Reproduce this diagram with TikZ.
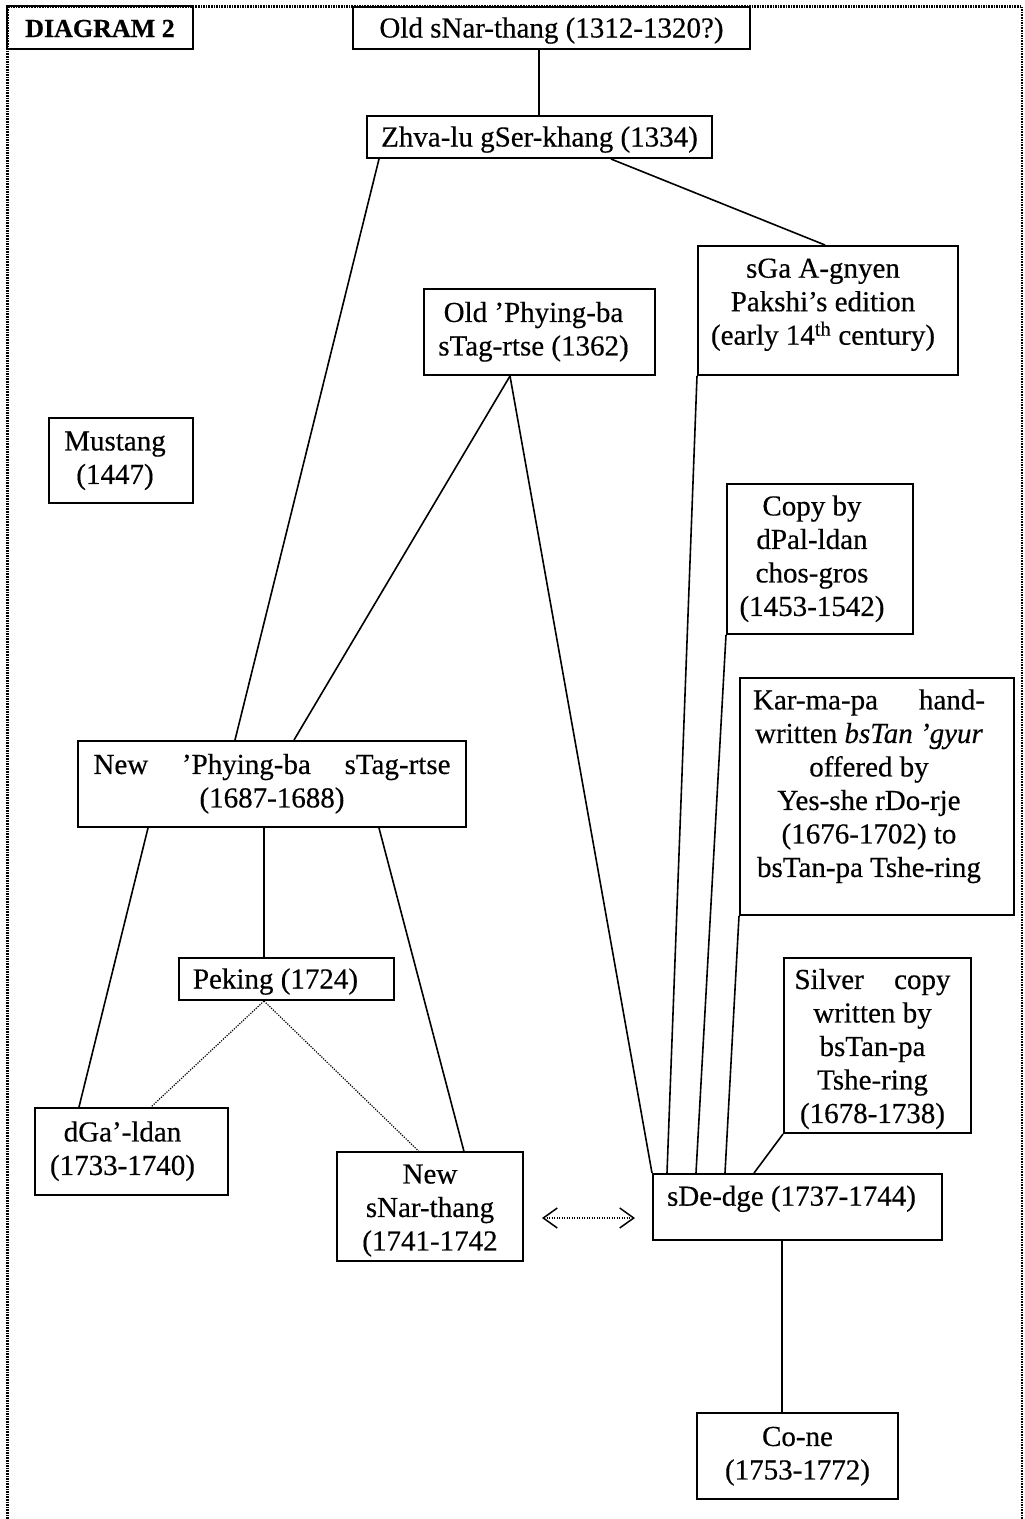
\documentclass[tikz,border=0pt]{standalone}
\usepackage{fontspec}
\setmainfont{Liberation Serif}[FakeBold=0.4]
\usetikzlibrary{arrows.meta}
\newcommand{\tb}[1]{\begin{tabular}{@{}c@{}}#1\end{tabular}}
\newcommand{\topgap}{\rule{0pt}{31pt}}
\tikzset{mybarb/.tip={Straight Barb[length=14pt,width=20pt,line width=1.5pt]}}
\begin{document}
\begin{tikzpicture}[x=1pt,y=-1pt,
 box/.style={draw, line width=2pt, inner sep=0pt, font=\fontsize{29}{33.5}\selectfont},
 oneline/.style={text height=22pt, text depth=3pt},
 link/.style={line width=1.6pt},
 dotlink/.style={line width=1.2pt, dash pattern=on 1.2pt off 1.3pt}
]
\clip (0,0) rectangle (1025,1519);
\fill[white] (0,0) rectangle (1025,1519);
\draw[line width=2.2pt, dash pattern=on 1.6pt off 1pt] (7.5,6.5) rectangle (1022,1545);

\node[box, oneline, minimum width=186pt, minimum height=43pt, font=\fontsize{26}{30}\selectfont\bfseries] (diag) at (100,27.5) {DIAGRAM 2};
\node[box, oneline, minimum width=397pt, minimum height=42pt] (oldsnar) at (551.5,28) {Old sNar-thang (1312-1320?)};
\node[box, oneline, minimum width=345pt, minimum height=42pt] (zhva) at (539.5,137) {Zhva-lu gSer-khang (1334)};
\node[box, minimum width=260pt, minimum height=129pt] (sga) at (828,310.5) {\tb{sGa A-gnyen\\ Pakshi’s edition\\ (early 14\textsuperscript{th} century)\\[12pt]}\hspace*{10pt}};
\node[box, minimum width=231pt, minimum height=86pt] (oldphy) at (539.5,332) {\tb{Old ’Phying-ba\\ sTag-rtse (1362)}\hspace*{12pt}};
\node[box, minimum width=144pt, minimum height=85pt] (mustang) at (121,460.5) {\tb{Mustang\\ (1447)}\hspace*{12pt}};
\node[box, minimum width=186pt, minimum height=150pt] (copyby) at (820,559) {\tb{Copy by\\ dPal-ldan\\ chos-gros\\ (1453-1542)}\hspace*{16pt}};
\node[box, minimum width=274pt, minimum height=237pt] (karma) at (877,796.5) {\tb{\hbox to 232pt{Kar-ma-pa\hfill hand-}\\ written \textit{bsTan ’gyur}\\ offered by\\ Yes-she rDo-rje\\ (1676-1702) to\\ bsTan-pa Tshe-ring\\[20pt]}\hspace*{16pt}};
\node[box, minimum width=388pt, minimum height=86pt] (newphy) at (272,784) {\tb{\hbox to 357pt{New\hfill ’Phying-ba\hfill sTag-rtse}\\ (1687-1688)}};
\node[box, oneline, minimum width=215pt, minimum height=42pt] (peking) at (286.5,979) {Peking (1724)\hspace*{22pt}};
\node[box, minimum width=187pt, minimum height=173pt] (silver) at (877.5,1045.5) {\tb{\topgap\hbox to 156pt{Silver\hfill copy}\\ written by\\ bsTan-pa\\ Tshe-ring\\ (1678-1738)}\hspace*{10pt}};
\node[box, minimum width=193pt, minimum height=87pt] (dgaldan) at (131.5,1151.5) {\tb{dGa’-ldan\\ (1733-1740)}\hspace*{18pt}};
\node[box, minimum width=186pt, minimum height=107pt] (newsnar) at (430,1206.5) {\tb{\topgap New\\ sNar-thang\\ (1741-1742}};
\node[box, minimum width=289pt, minimum height=66pt] (sdedge) at (797.5,1207) {\tb{sDe-dge (1737-1744)\\[16pt]}\hspace*{12pt}};
\node[box, minimum width=201pt, minimum height=86pt] (cone) at (797.5,1456) {\tb{Co-ne\\ (1753-1772)}};

\draw[link] ([xshift=187pt]oldsnar.south west) -- ([xshift=173pt]zhva.north west);
\draw[link] ([xshift=13pt]zhva.south west) -- ([xshift=158pt]newphy.north west);
\draw[link] ([xshift=245pt]zhva.south west) -- ([xshift=128pt]sga.north west);
\draw[link] ([xshift=87pt]oldphy.south west) -- ([xshift=217pt]newphy.north west);
\draw[link] ([xshift=87pt]oldphy.south west) -- (sdedge.north west);
\draw[link] (sga.south west) -- ([xshift=15pt]sdedge.north west);
\draw[link] (copyby.south west) -- ([xshift=44pt]sdedge.north west);
\draw[link] (karma.south west) -- ([xshift=73pt]sdedge.north west);
\draw[link] (silver.south west) -- ([xshift=102pt]sdedge.north west);
\draw[link] ([xshift=71pt]newphy.south west) -- ([xshift=45pt]dgaldan.north west);
\draw[link] ([xshift=187pt]newphy.south west) -- ([xshift=86pt]peking.north west);
\draw[link] ([xshift=302pt]newphy.south west) -- ([xshift=128pt]newsnar.north west);
\draw[dotlink] ([xshift=86pt]peking.south west) -- ([xshift=117pt]dgaldan.north west);
\draw[dotlink] ([xshift=86pt]peking.south west) -- ([xshift=83pt]newsnar.north west);
\draw[dotlink, {mybarb}-{mybarb}] ([xshift=18pt,yshift=-11.5pt]newsnar.east) -- ([xshift=-17pt,yshift=-11pt]sdedge.west);
\draw[link] ([xshift=130pt]sdedge.south west) -- ([xshift=86pt]cone.north west);
\end{tikzpicture}
\end{document}
